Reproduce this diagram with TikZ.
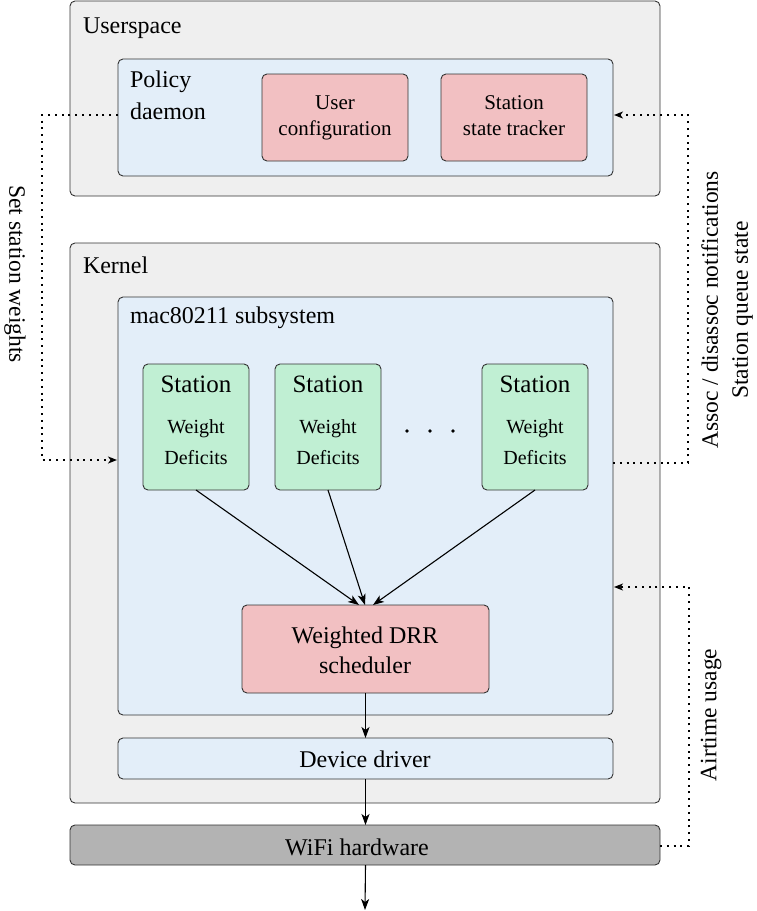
\documentclass[tikz,border=0pt]{standalone}
\usepackage{fontspec}
\setmainfont{Liberation Serif}
\usetikzlibrary{arrows.meta}
\definecolor{outerfill}{HTML}{EFEFEF}
\definecolor{bluefill}{HTML}{E3EEF9}
\definecolor{pinkfill}{HTML}{F2C0C2}
\definecolor{greenfill}{HTML}{C0EFD3}
\definecolor{hwfill}{HTML}{B3B3B3}
\definecolor{edge}{HTML}{333333}
\begin{document}
\begin{tikzpicture}[x=1pt,y=-1pt,
  every node/.style={inner sep=0pt, outer sep=0pt},
  boxbase/.style={draw=edge, line width=0.9pt, rounded corners=5pt, anchor=north west},
  outerbox/.style={boxbase, fill=outerfill},
  bluebox/.style={boxbase, fill=bluefill},
  pinkbox/.style={boxbase, fill=pinkfill},
  greenbox/.style={boxbase, fill=greenfill},
  hwbox/.style={boxbase, fill=hwfill},
  lbl/.style={font=\fontsize{24}{30}\selectfont, anchor=base west},
  ctr/.style={font=\fontsize{24}{30}\selectfont, anchor=base},
  small/.style={font=\fontsize{21}{26}\selectfont, anchor=base},
  stn/.style={font=\fontsize{25}{30}\selectfont, anchor=base},
  stsmall/.style={font=\fontsize{20}{26}\selectfont, anchor=base},
  rot/.style={font=\fontsize{23.5}{30}\selectfont, align=center},
  solidarrow/.style={draw=black, line width=1.1pt, -{Stealth[length=11pt,width=8pt,inset=3pt]}},
  dotline/.style={draw=black, line width=1.3pt, dash pattern=on 2pt off 4.8pt},
  dotarrow/.style={dotline, -{Stealth[length=9pt,width=7pt,inset=2.5pt]}},
  ]
\useasboundingbox (0,0) rectangle (756,911);

% Userspace
\node[outerbox, minimum width=590pt, minimum height=195pt] (user) at (70,1) {};
\node[lbl] (userlbl) at (83,33) {Userspace};
\node[bluebox, minimum width=495pt, minimum height=117pt] (policy) at (118,59) {};
\node[lbl] (pol1) at (130,87) {Policy};
\node[lbl] (pol2) at (130,119) {daemon};
\node[pinkbox, minimum width=146pt, minimum height=87pt] (ucfg) at (262,74) {};
\node[small] (ucfg1) at (335,109) {User};
\node[small] (ucfg2) at (335,135) {configuration};
\node[pinkbox, minimum width=146pt, minimum height=87pt] (sst) at (441,74) {};
\node[small] (sst1) at (514,109) {Station};
\node[small] (sst2) at (514,135) {state tracker};

% Kernel
\node[outerbox, minimum width=590pt, minimum height=560pt] (kernel) at (70,243) {};
\node[lbl] (kernlbl) at (83,273) {Kernel};
\node[bluebox, minimum width=495pt, minimum height=418pt] (mac) at (118,297) {};
\node[lbl] (maclbl) at (130,323) {mac80211 subsystem};

\node[greenbox, minimum width=106pt, minimum height=126pt] (s1) at (143,364) {};
\node[stn] (s1a) at (196,392) {Station};
\node[stsmall] (s1b) at (196,433) {Weight};
\node[stsmall] (s1c) at (196,464) {Deficits};

\node[greenbox, minimum width=106pt, minimum height=126pt] (s2) at (275,364) {};
\node[stn] (s2a) at (328,392) {Station};
\node[stsmall] (s2b) at (328,433) {Weight};
\node[stsmall] (s2c) at (328,464) {Deficits};

\node[greenbox, minimum width=106pt, minimum height=126pt] (s3) at (482,364) {};
\node[stn] (s3a) at (535,392) {Station};
\node[stsmall] (s3b) at (535,433) {Weight};
\node[stsmall] (s3c) at (535,464) {Deficits};

\fill (407,431) circle (1.9);
\fill (430,431) circle (1.9);
\fill (453,431) circle (1.9);

\node[pinkbox, minimum width=247pt, minimum height=88pt] (drr) at (242,605) {};
\node[ctr] (drr1) at (365,643) {Weighted DRR};
\node[ctr] (drr2) at (365,673) {scheduler};

\node[bluebox, minimum width=495pt, minimum height=41pt] (dev) at (118,738) {};
\node[ctr] (devlbl) at (365,767) {Device driver};

% hardware
\node[hwbox, minimum width=590pt, minimum height=40pt] (wifi) at (70,825) {};
\node[ctr] (wifilbl) at (357,855) {WiFi hardware};
\coordinate (out) at (365,910);

% solid arrows
\coordinate (t1) at (359,605);
\coordinate (t2) at (365,605);
\coordinate (t3) at (373,605);
\draw[solidarrow] (s1.south) -- (t1);
\draw[solidarrow] (s2.south) -- (t2);
\draw[solidarrow] (s3.south) -- (t3);
\draw[solidarrow] (drr.south -| dev.north) -- (dev.north);
\draw[solidarrow] (dev.south) -- (wifi.north -| dev.south);
\draw[solidarrow] (wifi.south -| dev.south) -- (out);

% dotted connectors
\coordinate (lsrc) at (118,115);
\coordinate (ltgt) at (117,460);
\draw[dotarrow] (lsrc) -- (42,115) -- (42,460) -- (ltgt);
\coordinate (rtgt) at (614,115);
\coordinate (rsrc) at (613,463);
\draw[dotarrow] (rsrc) -- (688,463) -- (688,115) -- (rtgt);
\coordinate (atgt) at (614,587);
\coordinate (asrc) at (660,846);
\draw[dotarrow] (asrc) -- (689,846) -- (689,587) -- (atgt);

% rotated labels
\node[rot, rotate=-90] (setw) at (15,274) {Set station weights};
\node[rot, rotate=90] (assoc) at (727,310) {Assoc / disassoc notifications\\Station queue state};
\node[rot, rotate=90] (air) at (711,715) {Airtime usage};
\end{tikzpicture}
\end{document}
